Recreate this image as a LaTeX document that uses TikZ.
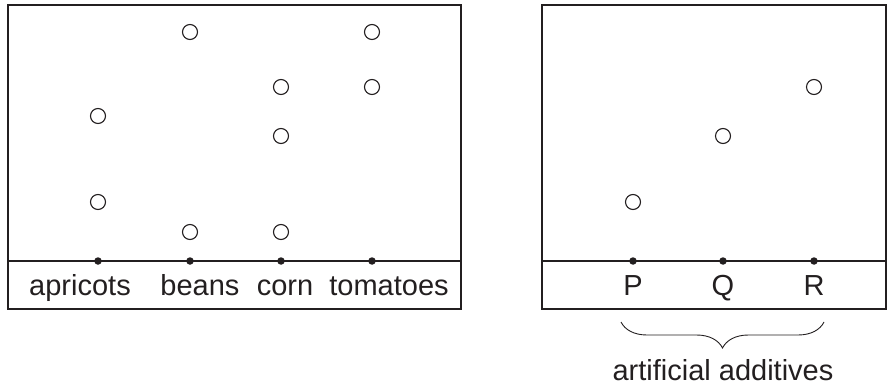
\documentclass[tikz,border=0pt]{standalone}
\usepackage{fontspec}
\setmainfont{Liberation Sans}
\usetikzlibrary{decorations.pathreplacing,positioning}
\definecolor{ink}{HTML}{231F20}

\begin{document}
\begin{tikzpicture}[x=1pt,y=-1pt,color=ink,
	obs/.style={circle,draw,line width=1.1pt,minimum size=15pt,inner sep=0pt},
	tickdot/.style={circle,fill,minimum size=7.5pt,inner sep=0pt},
	lbl/.style={font=\fontsize{29}{34}\selectfont,anchor=base,inner sep=0pt},
	frame/.style={line width=2.4pt}]
	\useasboundingbox (0,0) rectangle (894,385);
	% left panel
	\draw[frame] (8,5) rectangle (461,309);
	\draw[frame] (8,261) -- (461,261);
	\node[tickdot] (apr) at (98,261) {};
	\node[tickdot] (bea) at (190,261) {};
	\node[tickdot] (cor) at (281,261) {};
	\node[tickdot] (tom) at (372,261) {};
	\node[lbl] (aprl) at (80,295) {apricots};
	\node[lbl] (beal) at (200,295) {beans};
	\node[lbl] (corl) at (285,295) {corn};
	\node[lbl] (toml) at (389,295) {tomatoes};
	\node[obs] (apr1) at (98,116) {};
	\node[obs] (apr2) at (98,202) {};
	\node[obs] (bea1) at (190,32) {};
	\node[obs] (bea2) at (190,232) {};
	\node[obs] (cor1) at (281,87) {};
	\node[obs] (cor2) at (281,136) {};
	\node[obs] (cor3) at (281,232) {};
	\node[obs] (tom1) at (372,32) {};
	\node[obs] (tom2) at (372,87) {};
	% right panel
	\draw[frame] (542,5) rectangle (886,309);
	\draw[frame] (542,261) -- (886,261);
	\foreach \n/\x/\y in {P/633/202,Q/723/136,R/814/87}{
		\node[tickdot] (\n) at (\x,261) {};
		\node[lbl] (\n l) at (\x,295) {\n};
		\node[obs] (\n 1) at (\x,\y) {};
	}
	\coordinate (bl) at (621,322);
	\coordinate (br) at (824,322);
	\draw[line width=0.9pt,decorate,decoration={brace,mirror,amplitude=26pt}] (bl) -- (br);
	\node[lbl] (add) at (723,380) {artificial additives};
\end{tikzpicture}
\end{document}
